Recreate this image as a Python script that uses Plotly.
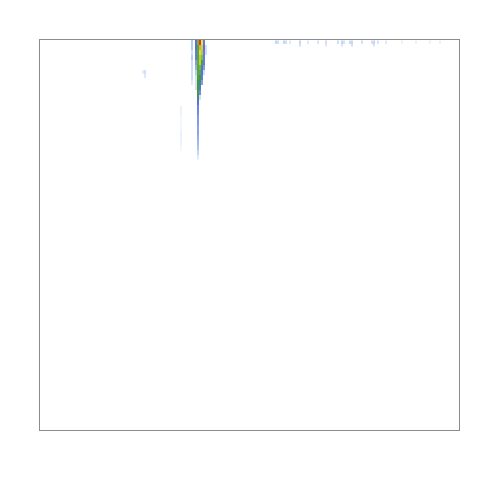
import plotly.graph_objects as go

# ---- streak region (main density ridge) ----
streak_x = [192, 194, 196, 198, 200, 202, 204, 206]
streak_y = [42, 47, 52, 57, 62, 67, 72, 77, 82, 87, 92, 97, 102, 107, 112, 117,
            122, 127, 132, 137, 142, 147, 152, 157]
streak_z = [
    [0.12, 0.0, 0.30, 0.55, 1.00, 0.72, 0.28, 0.00],
    [0.12, 0.0, 0.32, 0.50, 0.85, 0.68, 0.30, 0.08],
    [0.08, 0.0, 0.28, 0.50, 0.70, 0.65, 0.28, 0.08],
    [0.12, 0.0, 0.28, 0.50, 0.65, 0.58, 0.28, 0.00],
    [0.08, 0.0, 0.22, 0.52, 0.66, 0.48, 0.28, 0.00],
    [0.08, 0.0, 0.18, 0.50, 0.55, 0.35, 0.22, 0.00],
    [0.08, 0.0, 0.12, 0.50, 0.50, 0.30, 0.08, 0.00],
    [0.08, 0.0, 0.08, 0.48, 0.45, 0.28, 0.00, 0.00],
    [0.06, 0.0, 0.08, 0.45, 0.40, 0.22, 0.00, 0.00],
    [0.00, 0.0, 0.08, 0.45, 0.33, 0.00, 0.00, 0.00],
    [0.00, 0.0, 0.00, 0.46, 0.25, 0.00, 0.00, 0.00],
    [0.00, 0.0, 0.00, 0.40, 0.08, 0.00, 0.00, 0.00],
    [0.00, 0.0, 0.00, 0.30, 0.00, 0.00, 0.00, 0.00],
    [0.00, 0.0, 0.00, 0.26, 0.00, 0.00, 0.00, 0.00],
    [0.00, 0.0, 0.00, 0.25, 0.00, 0.00, 0.00, 0.00],
    [0.00, 0.0, 0.00, 0.22, 0.00, 0.00, 0.00, 0.00],
    [0.00, 0.0, 0.00, 0.22, 0.00, 0.00, 0.00, 0.00],
    [0.00, 0.0, 0.00, 0.20, 0.00, 0.00, 0.00, 0.00],
    [0.00, 0.0, 0.00, 0.20, 0.00, 0.00, 0.00, 0.00],
    [0.00, 0.0, 0.00, 0.18, 0.00, 0.00, 0.00, 0.00],
    [0.00, 0.0, 0.00, 0.16, 0.00, 0.00, 0.00, 0.00],
    [0.00, 0.0, 0.00, 0.14, 0.00, 0.00, 0.00, 0.00],
    [0.00, 0.0, 0.00, 0.10, 0.00, 0.00, 0.00, 0.00],
    [0.00, 0.0, 0.00, 0.06, 0.00, 0.00, 0.00, 0.00],
]

# ---- faint strip along the top edge ----
strip_x = list(range(276, 446, 2))
strip_y = [42, 45]
strip_vals_top = {276: 0.10, 278: 0.08, 284: 0.10, 286: 0.08, 290: 0.06, 300: 0.10,
                  308: 0.06, 318: 0.07, 326: 0.08, 338: 0.08, 342: 0.10, 344: 0.08,
                  350: 0.09, 352: 0.10, 362: 0.08, 372: 0.08, 374: 0.10, 378: 0.07,
                  386: 0.06, 402: 0.04, 416: 0.04, 430: 0.04, 440: 0.04}
strip_vals_low = {300: 0.08, 326: 0.06, 342: 0.07, 352: 0.08, 374: 0.07}
strip_z = [[strip_vals_top.get(x, 0.0) for x in strip_x],
           [strip_vals_low.get(x, 0.0) for x in strip_x]]

# ---- faint isolated specks ----
speck_x = [143, 145, 147]
speck_y = [72, 76]
speck_z = [[0.05, 0.08, 0.0], [0.0, 0.06, 0.0]]

speck2_x = [179, 181, 183]
speck2_y = [110, 118, 142, 148]
speck2_z = [[0.0, 0.04, 0.0], [0.0, 0.03, 0.0], [0.0, 0.04, 0.0], [0.0, 0.03, 0.0]]

colorscale = [
    [0.00, "rgba(255,255,255,0)"],
    [0.03, "#f2f6ff"],
    [0.12, "#b8cdf5"],
    [0.30, "#5a6ee8"],
    [0.45, "#3f9a3a"],
    [0.60, "#8cc43c"],
    [0.72, "#e8e040"],
    [0.86, "#f0a030"],
    [1.00, "#e03828"],
]

fig = go.Figure()
for xs, ys, zs in [(streak_x, streak_y, streak_z), (strip_x, strip_y, strip_z),
                   (speck_x, speck_y, speck_z), (speck2_x, speck2_y, speck2_z)]:
    fig.add_trace(go.Heatmap(x=xs, y=ys, z=zs, zmin=0, zmax=1, colorscale=colorscale,
                             showscale=False, zsmooth=False, hoverinfo="skip"))

fig.update_layout(
    width=480, height=480,
    margin=dict(l=40, r=21, t=40, b=50),
    paper_bgcolor="white", plot_bgcolor="white",
    showlegend=False,
)
fig.update_xaxes(range=[40, 459], showgrid=False, zeroline=False, showticklabels=False,
                 ticks="", showline=True, mirror=True, linecolor="#8c8c8c", linewidth=1)
fig.update_yaxes(range=[430, 40], showgrid=False, zeroline=False, showticklabels=False,
                 ticks="", showline=True, mirror=True, linecolor="#8c8c8c", linewidth=1)

fig.write_html("out.html")
